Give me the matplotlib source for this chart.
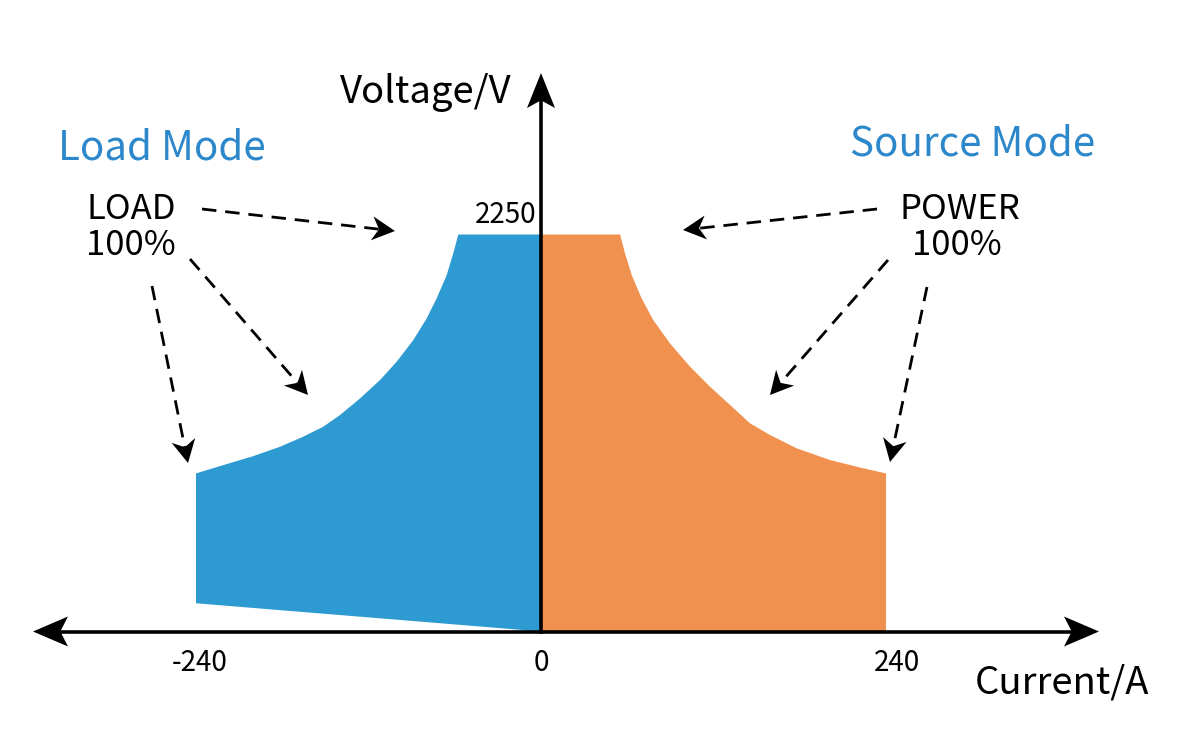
import matplotlib
matplotlib.use("Agg")
import numpy as np
import matplotlib.pyplot as plt
from matplotlib.patches import Polygon
from matplotlib.lines import Line2D

plt.rcParams['font.family'] = ['Noto Sans CJK SC', 'DejaVu Sans']

# source mode (orange) boundary, current in A, voltage in V
current_source = [0, 55.0, 58.4, 63.1, 70.0, 78.1, 89.7, 103.7, 117.6, 131.5, 145.4,
                  159.3, 177.9, 201.0, 224.2, 240]
voltage_source = [2250, 2250, 2144, 2020, 1888, 1765, 1633, 1501, 1387, 1284, 1180,
                  1114, 1038, 972, 925, 896]
source_bottom_current = [240, 0]
source_bottom_voltage = [0, 0]

# load mode (blue) boundary
current_load = [0, -57.5, -61.0, -65.6, -72.6, -79.5, -88.8, -100.4, -112.0, -125.9,
                -139.8, -151.4, -165.4, -181.6, -200.1, -221.0, -240]
voltage_load = [2250, 2250, 2144, 2020, 1888, 1775, 1652, 1529, 1425, 1321,
                1227, 1161, 1104, 1047, 994, 943, 896]
load_bottom_current = [-240, 0]
load_bottom_voltage = [160, 0]

tick_values = [-240, 0, 240]
tick_labels = ['-240', '0', '240']
v_max = 2250

blue = '#2E9AD2'
orange = '#F0914F'
title_blue = '#2C87CB'

W, H = 1190, 743
fig = plt.figure(figsize=(W / 100, H / 100), dpi=100)
ax = fig.add_axes([0, 0, 1, 1])
ax.axis('off')

# pixel mapping: origin at (541, 631.5), 240 A -> 345 px, 2250 V -> 397 px
sx = 345 / 240
sy = 397 / 2250
ax.set_xlim(-541 / sx, (W - 541) / sx)
ax.set_ylim(-(H - 631.5) / sy, 631.5 / sy)


def px(x, y):
    return x / W, 1 - y / H


def arrow(tail, tip, length, half_w, notch=0.3, lw=1.8, ls='-'):
    # shaft + stealth style head, all in pixel coords
    tail = np.array(tail, float)
    tip = np.array(tip, float)
    d = (tip - tail) / np.hypot(*(tip - tail))
    perp = np.array([-d[1], d[0]])
    base = tip - d * length
    back = base + d * length * notch
    pts = [tip, base + perp * half_w, back, base - perp * half_w]
    fig.add_artist(Polygon([px(*p) for p in pts], closed=True, transform=fig.transFigure,
                           facecolor='black', edgecolor='none', zorder=5))
    (x0, y0), (x1, y1) = px(*tail), px(*back)
    fig.add_artist(Line2D([x0, x1], [y0, y1], transform=fig.transFigure,
                          color='black', lw=lw, linestyle=ls, zorder=4))


# filled regions
ax.fill(current_source + source_bottom_current,
        voltage_source + source_bottom_voltage, color=orange, lw=0)
ax.fill(current_load + load_bottom_current,
        voltage_load + load_bottom_voltage, color=blue, lw=0)

# axes arrows
arrow((541, 631.5), (1099, 631.5), 35, 15, notch=0.22, lw=2.6)
arrow((541, 631.5), (33, 631.5), 35, 15, notch=0.22, lw=2.6)
arrow((541, 631.5), (541, 73), 35, 14, notch=0.22, lw=2.6)

# tick labels
tick_px = {-240: 200, 0: 541, 240: 897}
for v, lab in zip(tick_values, tick_labels):
    fig.text(*px(tick_px[v], 671), lab, fontsize=20, ha='center', va='baseline')
fig.text(*px(536, 223), str(v_max), fontsize=20, ha='right', va='baseline')

fig.text(*px(340, 103), 'Voltage/V', fontsize=27.5, ha='left', va='baseline')
fig.text(*px(975, 693), 'Current/A', fontsize=27.5, ha='left', va='baseline')

fig.text(*px(58, 160), 'Load Mode', fontsize=29, ha='left', va='baseline', color=title_blue)
fig.text(*px(850, 155), 'Source Mode', fontsize=29, ha='left', va='baseline', color=title_blue)

fig.text(*px(86, 219), 'LOAD', fontsize=25, ha='left', va='baseline')
fig.text(*px(86, 255), '100%', fontsize=25, ha='left', va='baseline')
fig.text(*px(960, 219), 'POWER', fontsize=25, ha='center', va='baseline')
fig.text(*px(957, 255), '100%', fontsize=25, ha='center', va='baseline')

# dashed pointer arrows (start px, tip px)
pointers = [((202, 209), (395, 231)),
            ((190, 259), (308, 395)),
            ((152, 286), (188, 463)),
            ((877, 209), (683, 230)),
            ((888, 260), (770, 395)),
            ((927, 287), (890, 462))]
for start, tip in pointers:
    arrow(start, tip, 23, 12, notch=0.3, lw=2.0, ls=(0, (5.2, 3.2)))

fig.savefig('out.png', dpi=100)
